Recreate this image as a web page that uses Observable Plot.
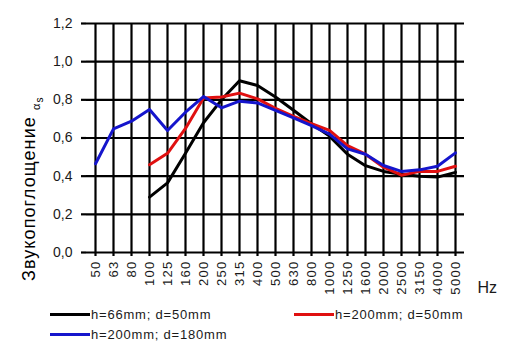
<!DOCTYPE html>
<html>
<head>
<meta charset="utf-8">
<script src="https://cdn.jsdelivr.net/npm/d3@7"></script>
<script src="https://cdn.jsdelivr.net/npm/@observablehq/plot@0.6"></script>
<style>
  html, body { margin: 0; padding: 0; background: #fff; }
  #wrap { position: relative; width: 509px; height: 363px; font-family: "Liberation Sans", Arial, sans-serif; }
  .leg { position: absolute; display: flex; align-items: center; font-size: 13px; letter-spacing: 0.8px; color: #1a1a1a; }
  .leg .sw { width: 40px; height: 3px; margin-right: 1px; }
</style>
</head>
<body>
<div id="wrap"></div>
<script>
const freqs = ["50","63","80","100","125","160","200","250","315","400","500","630","800","1000","1250","1600","2000","2500","3150","4000","5000"];
const yTicks = [0, 0.2, 0.4, 0.6, 0.8, 1.0, 1.2];
const seriesNames = ["h=66mm; d=50mm", "h=200mm; d=50mm", "h=200mm; d=180mm"];
const seriesColors = ["#000000", "#e01010", "#1515cc"];
const black = [null,null,null,0.29,0.365,0.52,0.68,0.80,0.90,0.875,0.815,0.745,0.675,0.61,0.515,0.455,0.425,0.41,0.40,0.395,0.42];
const red   = [null,null,null,0.46,0.52,0.65,0.81,0.815,0.835,0.805,0.755,0.713,0.675,0.64,0.56,0.515,0.447,0.405,0.425,0.425,0.452];
const blue  = [0.465,0.648,0.688,0.749,0.639,0.735,0.817,0.758,0.793,0.784,0.745,0.706,0.665,0.62,0.543,0.515,0.456,0.425,0.433,0.452,0.522];

const allSeries = [black, red, blue];
const rowsFor = (arr) => arr.map((v, i) => ({f: freqs[i], v})).filter(d => d.v != null);
const fmt = d => d.toFixed(1).replace(".", ",");

const plot = Plot.plot({
  width: 509,
  height: 305,
  marginLeft: 86,
  marginRight: 45,
  marginTop: 23,
  marginBottom: 53,
  style: {fontFamily: "'Liberation Sans', Arial, sans-serif", background: "white", color: "#1a1a1a", overflow: "visible"},
  x: {type: "point", domain: freqs, padding: 0, label: null},
  y: {domain: [0, 1.2], label: null},
  marks: [
    Plot.ruleX(freqs, {x: d => d, y1: 0, y2: 1.2, stroke: "#000", strokeWidth: 2.2}),
    Plot.ruleY(yTicks, {stroke: "#000", strokeWidth: 2.2}),
    Plot.axisY({ticks: yTicks, tickFormat: fmt, tickSize: 5, tickPadding: 9, fontSize: 14, stroke: "#000", strokeWidth: 2.2, label: null}),
    Plot.axisX({tickRotate: -90, tickSize: 4, tickPadding: 4, fontSize: 13, stroke: "#000", strokeWidth: 2.2, label: null}),
    ...allSeries.map((s, i) => Plot.line(rowsFor(s), {x: "f", y: "v", stroke: seriesColors[i], strokeWidth: 3})),
    Plot.text(["Hz"], {frameAnchor: "bottom-right", dx: 13, dy: 35, textAnchor: "start", lineAnchor: "middle", fontSize: 16, fill: "#1a1a1a"})
  ]
});

d3.select(plot).selectAll('g[aria-label="x-axis tick label"] text').style("letter-spacing", "1.3px");

const yl = d3.select(plot).append("text")
  .attr("transform", "translate(35,281) rotate(-90)")
  .attr("text-anchor", "start")
  .attr("font-size", 18)
  .attr("fill", "#000")
  .style("letter-spacing", "1.1px");
yl.append("tspan").text("Звукопоглощение ");
yl.append("tspan").attr("font-size", 11).attr("baseline-shift", "-5").text("α");
yl.append("tspan").attr("font-size", 10).attr("baseline-shift", "-8").text("s");

const wrap = document.getElementById("wrap");
wrap.appendChild(plot);

const legPos = [{left: 50, top: 307}, {left: 294, top: 307}, {left: 50, top: 327}];
seriesNames.forEach((name, i) => {
  const el = document.createElement("div");
  el.className = "leg";
  el.style.left = legPos[i].left + "px";
  el.style.top = legPos[i].top + "px";
  el.innerHTML = `<span class="sw" style="background:${seriesColors[i]}"></span><span>${name}</span>`;
  wrap.appendChild(el);
});
</script>
</body>
</html>
